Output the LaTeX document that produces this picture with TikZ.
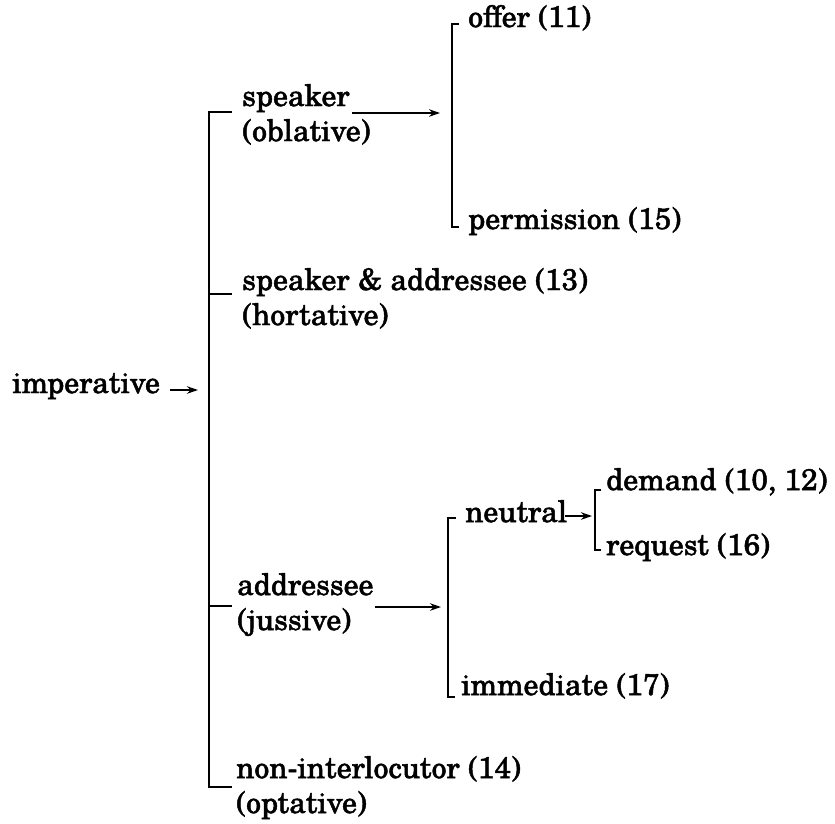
\documentclass[tikz,border=0pt]{standalone}
\usepackage{fontspec}
\setmainfont{TeX Gyre Schola}[FakeBold=1.6]
\usetikzlibrary{arrows.meta}
\begin{document}
\begin{tikzpicture}[x=1pt,y=-1pt,
  lbl/.style={anchor=base west,inner sep=0pt,font=\fontsize{29.8}{35}\selectfont},
  brk/.style={line width=2.3pt},
  arr/.style={line width=2.3pt,-{Stealth[length=11pt,width=7.5pt]}}]
\fill[white] (0,0) rectangle (835,823);
\useasboundingbox (0,0) rectangle (835,823);

% labels
\node[lbl] (imp)    at (12,393)  {imperative};
\node[lbl] (spk)    at (242,106) {speaker};
\node[lbl] (obl)    at (242,141) {(oblative)};
\node[lbl] (spad)   at (242,290) {speaker \& addressee (13)};
\node[lbl] (hort)   at (242,325) {(hortative)};
\node[lbl] (adr)    at (237,595) {addressee};
\node[lbl] (jus)    at (237,630) {(jussive)};
\node[lbl] (nonint) at (236,778) {non-interlocutor (14)};
\node[lbl] (opt)    at (236,813) {(optative)};
\node[lbl] (offer)  at (468,27)  {offer (11)};
\node[lbl] (perm)   at (468,229) {permission (15)};
\node[lbl] (neut)   at (465,522) {neutral};
\node[lbl] (imm)    at (461,695) {immediate (17)};
\node[lbl] (dem)    at (606,490) {demand (10, 12)};
\node[lbl] (req)    at (606,555) {request (16)};

% bracket corners and tick ends
\coordinate (m-top) at (209,112);
\coordinate (m-bot) at (209,787);
\coordinate (m-spk) at (232,112);
\coordinate (m-hor) at (209,294);
\coordinate (m-hor-e) at (232,294);
\coordinate (m-adr) at (209,606);
\coordinate (m-adr-e) at (232,606);
\coordinate (m-non) at (232,787);
\coordinate (imp-a) at (170,390);
\coordinate (imp-b) at (198,390);

\coordinate (s-top) at (452,24);
\coordinate (s-top-e) at (459,24);
\coordinate (s-bot) at (452,227);
\coordinate (s-bot-e) at (459,227);
\coordinate (spk-a) at (352,113);
\coordinate (spk-b) at (440,113);

\coordinate (a-top) at (448,518);
\coordinate (a-top-e) at (456,518);
\coordinate (a-bot) at (448,697);
\coordinate (a-bot-e) at (455,697);
\coordinate (adr-a) at (375,607);
\coordinate (adr-b) at (441,607);

\coordinate (n-top) at (595,490);
\coordinate (n-top-e) at (601,490);
\coordinate (n-bot) at (595,550);
\coordinate (n-bot-e) at (601,550);
\coordinate (neut-a) at (565,516);
\coordinate (neut-b) at (592,516);

% main bracket
\draw[brk] (m-spk) -- (m-top) -- (m-bot) -- (m-non);
\draw[brk] (m-hor) -- (m-hor-e);
\draw[brk] (m-adr) -- (m-adr-e);
\draw[arr] (imp-a) -- (imp-b);

% speaker bracket
\draw[arr] (spk-a) -- (spk-b);
\draw[brk] (s-top-e) -- (s-top) -- (s-bot) -- (s-bot-e);

% addressee bracket
\draw[arr] (adr-a) -- (adr-b);
\draw[brk] (a-top-e) -- (a-top) -- (a-bot) -- (a-bot-e);

% neutral bracket
\draw[arr] (neut-a) -- (neut-b);
\draw[brk] (n-top-e) -- (n-top) -- (n-bot) -- (n-bot-e);
\end{tikzpicture}
\end{document}
